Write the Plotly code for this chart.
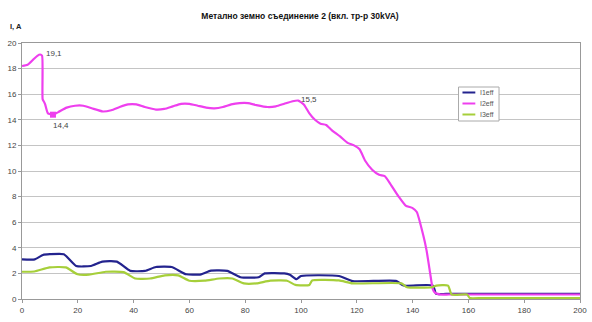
import plotly.graph_objects as go

# Time axis (s) and RMS currents (A) for each phase
i1_t = [0, 4.6, 7.5, 10, 15, 19.4, 24.7, 28.8, 34, 38.8, 44.1, 48, 53.6, 58.9, 64.2,
        67.7, 73.6, 78.3, 84.8, 87, 94, 96, 98.4, 100, 113.6, 118.5, 134, 136.8,
        147.3, 148.4, 152, 170, 185, 200]
i1_eff = [3.1, 3.1, 3.44, 3.5, 3.5, 2.58, 2.58, 2.92, 2.92, 2.2, 2.2, 2.5, 2.5, 1.93,
          1.93, 2.22, 2.2, 1.7, 1.7, 2.0, 2.0, 1.9, 1.55, 1.8, 1.8, 1.4, 1.42, 1.05,
          1.05, 0.4, 0.4, 0.4, 0.4, 0.4]

i2_t = [0, 2, 4, 5.5, 6.5, 7.2, 7.4, 7.9, 8.3, 9.3, 11.1, 13, 16, 19, 22, 25, 29, 32,
        35, 38, 41, 44, 48, 51, 54, 57, 60, 63, 66, 69, 72, 75, 78, 81, 84, 88, 91,
        94, 97, 99, 101, 103, 105, 107, 109, 111, 114, 116.7, 119, 121, 123, 125.5,
        128, 130, 132, 135, 137.5, 140, 141.5, 143.8, 145, 146.3, 147.2, 148, 149,
        150, 153, 170, 185, 200]
i2_eff = [18.2, 18.3, 18.7, 19.0, 19.1, 19.0, 15.6, 15.4, 15.2, 14.5, 14.4, 14.6,
          14.95, 15.1, 15.1, 14.9, 14.65, 14.75, 15.0, 15.2, 15.2, 15.0, 14.8, 14.85,
          15.05, 15.25, 15.25, 15.1, 14.95, 14.9, 15.0, 15.2, 15.3, 15.3, 15.15, 15.0,
          15.05, 15.25, 15.45, 15.5, 15.2, 14.5, 14.0, 13.7, 13.6, 13.2, 12.7, 12.2,
          12.0, 11.7, 10.8, 10.1, 9.7, 9.6, 9.0, 8.0, 7.3, 7.1, 6.8, 5.0, 3.8, 2.0,
          0.8, 0.5, 0.4, 0.35, 0.35, 0.35, 0.35, 0.35]

i3_t = [0, 4.4, 9.9, 15.7, 19.9, 24, 30, 36.4, 40.6, 45.9, 51.2, 56, 60, 65.4, 70.7,
        75.4, 79.5, 84, 89, 95, 98, 103, 104, 113.6, 118.5, 136, 138, 147, 148.5,
        152.7, 154, 159.5, 160.5, 165, 180, 200]
i3_eff = [2.13, 2.15, 2.47, 2.47, 1.93, 1.9, 2.13, 2.1, 1.6, 1.6, 1.85, 1.85, 1.43,
          1.43, 1.6, 1.6, 1.22, 1.22, 1.43, 1.43, 1.1, 1.1, 1.45, 1.45, 1.22, 1.22,
          0.92, 0.92, 1.05, 1.05, 0.35, 0.35, 0.08, 0.08, 0.08, 0.08]

series_names = ["I1eff", "I2eff", "I3eff"]

# Labelled points on the I2 curve: (t, value)
i2_max = (6.5, 19.1)
i2_min = (11.1, 14.4)
i2_knee = (99, 15.5)

y_ticks = list(range(0, 21, 2))
x_ticks = list(range(0, 201, 20))

FONT = "Liberation Sans, Arial, sans-serif"
BLUE = "#23238E"
MAGENTA = "#EE3FEE"
GREEN = "#A6CF3A"
COLORS = [BLUE, MAGENTA, GREEN]

W, H = 592, 322
ML, MR, MT, MB = 22, 5, 43, 23

fig = go.Figure()
for t, v, name, col in zip([i1_t, i2_t, i3_t], [i1_eff, i2_eff, i3_eff], series_names, COLORS):
    fig.add_trace(go.Scatter(x=t, y=v, mode="lines", name=name, showlegend=False,
                             line=dict(color=col, width=2.2, shape="spline", smoothing=0.5)))
fig.add_trace(go.Scatter(x=[i2_min[0]], y=[i2_min[1]], mode="markers", showlegend=False,
                         marker=dict(symbol="square", size=6, color=MAGENTA)))

def fmt(v):
    return f"{v:.1f}".replace(".", ",")

annots = [
    dict(x=i2_max[0], y=i2_max[1], text=fmt(i2_max[1]), xanchor="left", yanchor="middle",
         xshift=4, yshift=1),
    dict(x=i2_min[0], y=i2_min[1], text=fmt(i2_min[1]), xanchor="center", yanchor="top",
         xshift=8, yshift=-4),
    dict(x=i2_knee[0], y=i2_knee[1], text=fmt(i2_knee[1]), xanchor="left", yanchor="middle",
         xshift=1, yshift=1),
]
for a in annots:
    a.update(showarrow=False, font=dict(family=FONT, size=8, color="#444"))
    fig.add_annotation(**a)

# Y-axis unit label above the axis
fig.add_annotation(xref="paper", yref="paper", x=0, y=1, xanchor="left", yanchor="bottom",
                   xshift=-14, yshift=10, text="<b>I, A</b>", showarrow=False,
                   font=dict(family=FONT, size=7.5, color="#222"))

# Compact boxed legend, placed in pixel terms on the paper
def px(x):
    return (x - ML) / (W - ML - MR)

def py(y):
    return (H - MB - y) / (H - MT - MB)

fig.add_shape(type="rect", xref="paper", yref="paper", x0=px(464), x1=px(505),
              y0=py(121), y1=py(87), line=dict(color="#aaa", width=1), fillcolor="white",
              layer="above")
for k, (name, col) in enumerate(zip(series_names, COLORS)):
    yy = 92.5 + 11 * k
    fig.add_shape(type="line", xref="paper", yref="paper", x0=px(468), x1=px(481),
                  y0=py(yy), y1=py(yy), line=dict(color=col, width=2), layer="above")
    fig.add_annotation(xref="paper", yref="paper", x=px(484), y=py(yy), xanchor="left",
                       yanchor="middle", text=name, showarrow=False,
                       font=dict(family=FONT, size=7, color="#555"))

fig.update_layout(
    width=W, height=H,
    margin=dict(l=ML, r=MR, t=MT, b=MB),
    paper_bgcolor="white", plot_bgcolor="white",
    title=dict(text="<b>Метално земно съединение 2 (вкл. тр-р 30kVA)</b>",
               x=300 / W, xanchor="center", y=1 - 16 / H, yanchor="middle",
               font=dict(family=FONT, size=8.5, color="#111")),
    showlegend=False,
    xaxis=dict(range=[0, 200], tickvals=x_ticks, showgrid=False, zeroline=False,
               showline=True, linecolor="#999", linewidth=1, mirror=True,
               ticks="outside", ticklen=3, tickcolor="#999", ticklabeloverflow="allow",
               tickfont=dict(family=FONT, size=8, color="#444")),
    yaxis=dict(range=[0, 20], tickvals=y_ticks, showgrid=True, gridcolor="#c4c4c4",
               gridwidth=1, zeroline=False, showline=True, linecolor="#999",
               linewidth=1, mirror=True, ticks="outside", ticklen=3, tickcolor="#999",
               tickfont=dict(family=FONT, size=8, color="#444")),
)

fig.write_html("out.html")
